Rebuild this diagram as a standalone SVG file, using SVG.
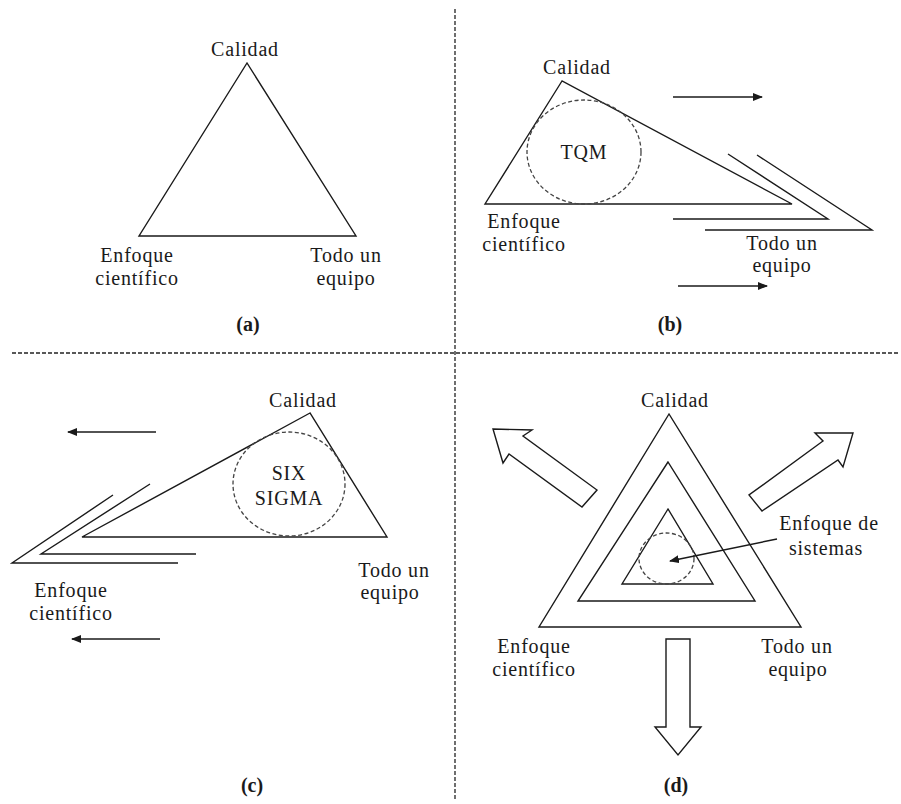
<svg xmlns="http://www.w3.org/2000/svg" width="901" height="804" viewBox="0 0 901 804">
  <style>
    .ln { fill: none; stroke: #1a1a1a; stroke-width: 1.4; stroke-linejoin: miter; }
    .blk { fill: #fff; stroke: #1a1a1a; stroke-width: 1.4; stroke-linejoin: miter; }
    .dc { fill: none; stroke: #444; stroke-width: 1.3; stroke-dasharray: 4 2.5; }
    .div { fill: none; stroke: #222; stroke-width: 1.3; stroke-dasharray: 4 2; }
    .arr { fill: none; stroke: #1a1a1a; stroke-width: 1.4; marker-end: url(#head); }
    text { font-family: "Liberation Serif", "Times New Roman", serif; font-size: 20px; fill: #1a1a1a; text-anchor: middle; letter-spacing: 0.8px; }
    .cap { font-weight: bold; letter-spacing: 0; }
  </style>
  <defs>
    <marker id="head" viewBox="0 0 10 8" refX="9" refY="4" markerWidth="10" markerHeight="8" markerUnits="userSpaceOnUse" orient="auto">
      <path d="M0,0 L10,4 L0,8 Z" fill="#1a1a1a"/>
    </marker>
  </defs>
  <rect width="901" height="804" fill="#fff"/>

  <!-- quadrant dividers -->
  <g id="dividers">
    <line class="div" x1="455" y1="9" x2="455" y2="800"/>
    <line class="div" x1="12" y1="353" x2="900" y2="353"/>
  </g>

  <!-- (a) basic triangle -->
  <g id="panel-a">
    <polygon class="ln" points="247,63 139,236 356,236"/>
    <text x="245" y="56">Calidad</text>
    <text x="137" y="262">Enfoque</text>
    <text x="137" y="285">científico</text>
    <text x="346" y="262">Todo un</text>
    <text x="346" y="285">equipo</text>
    <text class="cap" x="248" y="331">(a)</text>
  </g>

  <!-- (b) TQM -->
  <g id="panel-b">
    <polygon class="ln" points="562,81 485,204 792,204"/>
    <ellipse class="dc" cx="584" cy="152" rx="57" ry="52"/>
    <text x="584" y="159">TQM</text>
    <polyline class="ln" points="728,154 828,219 673,219"/>
    <polyline class="ln" points="757,155 872,230 705,230"/>
    <text x="577" y="74">Calidad</text>
    <text x="524" y="228">Enfoque</text>
    <text x="524" y="251">científico</text>
    <text x="782" y="250">Todo un</text>
    <text x="782" y="272">equipo</text>
    <text class="cap" x="670" y="331">(b)</text>
  </g>

  <!-- (c) Six Sigma -->
  <g id="panel-c">
    <polygon class="ln" points="310,413 82,537 387,537"/>
    <ellipse class="dc" cx="289" cy="484" rx="56" ry="52"/>
    <text x="289" y="480">SIX</text>
    <text x="289" y="505">SIGMA</text>
    <polyline class="ln" points="150,484 41,554 196,554"/>
    <polyline class="ln" points="113,495 12,563 178,563"/>
    <text x="303" y="407">Calidad</text>
    <text x="71" y="597">Enfoque</text>
    <text x="71" y="620">científico</text>
    <text x="394" y="577">Todo un</text>
    <text x="390" y="599">equipo</text>
    <text class="cap" x="252" y="792">(c)</text>
  </g>

  <!-- (d) systems approach -->
  <g id="panel-d">
    <polygon class="ln" points="669,414 539,627 801,627"/>
    <polygon class="ln" points="668,462 578,601 755,601"/>
    <polygon class="ln" points="668,509 622,584 713,584"/>
    <ellipse class="dc" cx="666.5" cy="558.5" rx="27.5" ry="25.5"/>
    <polygon class="blk" points="493,429 532,430 523,436 597,490 582,507 509,454 503,463"/>
    <polygon class="blk" points="853,433 815,433 823,441 749,495 762,511 838,460 843,467"/>
    <polygon class="blk" points="666,639 690,639 690,727 701,727 678,755 655,727 666,727"/>
    <text x="675" y="407">Calidad</text>
    <text x="829" y="530">Enfoque de</text>
    <text x="826" y="555">sistemas</text>
    <text x="534" y="653">Enfoque</text>
    <text x="534" y="676">científico</text>
    <text x="797" y="653">Todo un</text>
    <text x="798" y="676">equipo</text>
    <text class="cap" x="676" y="792">(d)</text>
  </g>

  <!-- direction arrows -->
  <g id="connectors">
    <line class="arr" x1="673" y1="97" x2="762" y2="97"/>
    <line class="arr" x1="678" y1="286" x2="767" y2="286"/>
    <line class="arr" x1="156" y1="432" x2="68" y2="432"/>
    <line class="arr" x1="160" y1="639" x2="72" y2="639"/>
    <line class="arr" x1="777" y1="539" x2="670" y2="561"/>
  </g>
</svg>
